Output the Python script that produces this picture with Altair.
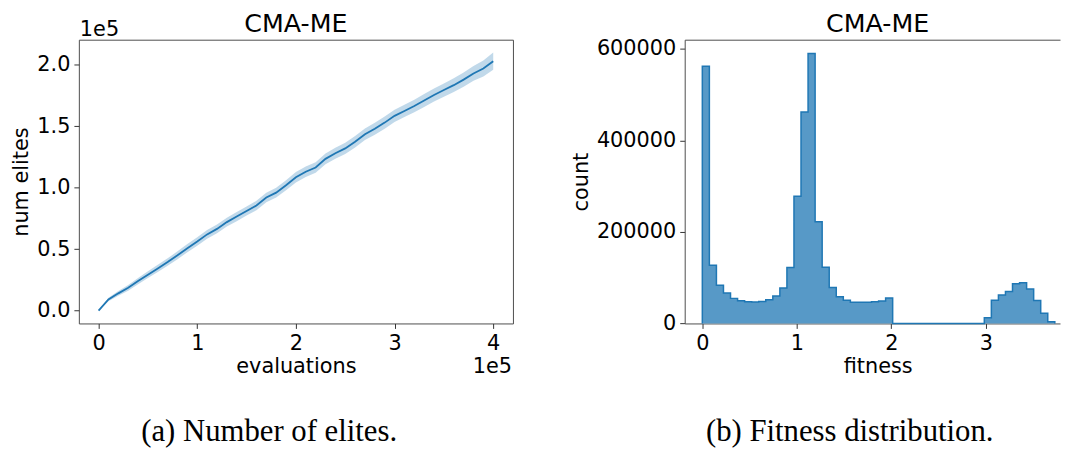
import altair as alt
import numpy as np
import pandas as pd

# ---------------- data: (a) number of elites ----------------
evaluations = [0, 10000, 20000, 30000, 40000, 50000, 60000, 70000, 80000, 90000,
               100000, 110000, 120000, 130000, 140000, 150000, 160000, 170000, 180000, 190000,
               200000, 210000, 220000, 230000, 240000, 250000, 260000, 270000, 280000, 290000,
               300000, 310000, 320000, 330000, 340000, 350000, 360000, 370000, 380000, 390000,
               400000]
num_elites = [0, 9000, 14000, 18500, 24000, 29200, 34300, 39500, 45000, 50800,
              56200, 62000, 66500, 72000, 76500, 81000, 85500, 92000, 96000, 102000,
              108500, 113000, 116500, 123500, 128000, 132000, 137500, 143500, 148000, 153000,
              158500, 162500, 166500, 171000, 175500, 179500, 183500, 188000, 193000, 197000,
              203000]
elites_spread = [0, 1500, 2000, 2300, 2600, 2800, 3000, 3000, 3200, 3300,
                 3400, 3500, 3500, 3600, 3700, 3700, 3800, 3900, 4000, 4100,
                 4200, 4200, 4300, 4400, 4500, 4600, 4700, 4700, 4800, 4900,
                 5000, 5000, 5100, 5200, 5300, 5400, 5600, 5800, 6000, 6500,
                 7000]

# ---------------- data: (b) fitness distribution ----------------
fitness_min = 0.0
fitness_max = 3.73
bin_counts = [562000, 127000, 83700, 66400, 54800, 49800, 47600, 46900, 48000, 52000,
              59900, 77200, 122000, 278000, 462000, 590000, 222000, 123000, 78600, 58400,
              50500, 46500, 46200, 46300, 47200, 49000, 55500, 0, 0, 0,
              0, 0, 0, 0, 0, 0, 0, 0, 0, 0,
              12300, 50500, 62000, 70000, 86500, 89000, 75500, 50300, 22500, 3800]

title_text = "CMA-ME"
caption_a = "(a) Number of elites."
caption_b = "(b) Fitness distribution."
offset_text = "1e5"

FONT = "DejaVu Sans"
SERIF = "Liberation Serif"
BLUE = "#1f77b4"
FILL = "#5799c7"
FRAME = "#4d4d4d"

W1, H = 438, 286.3
W2 = 378.7


def text_layer(txt, x, y, size, font=FONT, align="center", baseline="middle"):
    return alt.Chart(pd.DataFrame({"t": [txt]})).mark_text(
        font=font, fontSize=size, align=align, baseline=baseline, color="black"
    ).encode(x=alt.value(x), y=alt.value(y), text="t:N")


# ---------------- panel (a) ----------------
df_a = pd.DataFrame({"evaluations": evaluations, "num_elites": num_elites, "spread": elites_spread})
df_a["low"] = df_a["num_elites"] - df_a["spread"]
df_a["high"] = df_a["num_elites"] + df_a["spread"]

xa = alt.Scale(domain=[-20000, 420000], nice=False, zero=False)
ya = alt.Scale(domain=[-10500, 220500], nice=False, zero=False)

x_axis_a = alt.Axis(values=[0, 100000, 200000, 300000, 400000],
                    labelExpr="format(datum.value / 100000, 'd')",
                    title="evaluations", titleX=W1 / 2, titleY=43.7,
                    titleBaseline="middle", domain=False)
y_axis_a = alt.Axis(values=[0, 50000, 100000, 150000, 200000],
                    labelExpr="format(datum.value / 100000, '.1f')",
                    title="num elites", titleX=-58, titleY=H / 2,
                    titleBaseline="middle", domain=False)

band = alt.Chart(df_a).mark_area(color=BLUE, opacity=0.28).encode(
    x=alt.X("evaluations:Q", scale=xa, axis=x_axis_a),
    y=alt.Y("low:Q", scale=ya, axis=y_axis_a),
    y2="high:Q",
)
line = alt.Chart(df_a).mark_line(color=BLUE, strokeWidth=1.8).encode(
    x=alt.X("evaluations:Q", scale=xa, axis=x_axis_a),
    y=alt.Y("num_elites:Q", scale=ya, axis=y_axis_a),
)

title_a = text_layer(title_text, W1 / 2, -15.7, 25.5)
off_top = text_layer(offset_text, 1, -3.4, 21, align="left", baseline="alphabetic")
off_bot = text_layer(offset_text, 437, 336.3, 21, align="right", baseline="alphabetic")
cap_a = text_layer(caption_a, 192, 405, 31, font=SERIF, baseline="alphabetic")

panel_a = alt.layer(band, line, title_a, off_top, off_bot, cap_a).properties(width=W1, height=H)

# ---------------- panel (b) ----------------
edges = np.linspace(fitness_min, fitness_max, len(bin_counts) + 1)
df_area = pd.DataFrame({"fitness": edges, "count": bin_counts + [bin_counts[-1]]})
step_x = [edges[0]] + list(edges) + [edges[-1]]
step_y = [0] + bin_counts + [bin_counts[-1], 0]
df_step = pd.DataFrame({"fitness": step_x, "count": step_y, "order": list(range(len(step_x)))})

xb = alt.Scale(domain=[-0.1865, 3.785], nice=False, zero=False)
yb = alt.Scale(domain=[0, 620000], nice=False, zero=False)

x_axis_b = alt.Axis(values=[0, 1, 2, 3], format="d", title="fitness",
                    titleX=194.7, titleY=43.7, titleBaseline="middle",
                    domain=True, domainColor=FRAME)
y_axis_b = alt.Axis(values=[0, 200000, 400000, 600000], format="d", title="count",
                    titleX=-104.3, titleY=H / 2, titleBaseline="middle",
                    domain=True, domainColor=FRAME)
top_axis = alt.Axis(orient="top", labels=False, ticks=False, title=None,
                    domain=True, domainColor=FRAME)

area = alt.Chart(df_area).mark_area(interpolate="step-after", color=FILL).encode(
    x=alt.X("fitness:Q", scale=xb, axis=x_axis_b),
    y=alt.Y("count:Q", scale=yb, axis=y_axis_b),
)
step = alt.Chart(df_step).mark_line(interpolate="step-after", color=BLUE, strokeWidth=1.5).encode(
    x=alt.X("fitness:Q", scale=xb, axis=top_axis),
    y=alt.Y("count:Q", scale=yb, axis=y_axis_b),
    order="order:Q",
)
title_b = text_layer(title_text, 194.7, -15.7, 25.5)
cap_b = text_layer(caption_b, 166.5, 405, 31, font=SERIF, baseline="alphabetic")

panel_b = alt.layer(area, step, title_b, cap_b).resolve_axis(x="independent").properties(
    width=W2, height=H,
    view=alt.ViewBackground(stroke="transparent"),
)

chart = alt.hconcat(panel_a, panel_b, spacing=173.3, bounds="flush").properties(
    padding={"left": 1.5, "top": 1, "right": 0, "bottom": 0}
).configure_axis(
    labelFont=FONT, titleFont=FONT, labelFontSize=21, titleFontSize=21,
    labelColor="black", titleColor="black", titleFontWeight="normal",
    tickColor="#333333", tickSize=5, tickWidth=1, labelPadding=4, grid=False,
).configure_view(stroke=FRAME, strokeWidth=1)

chart.save("out.html", embed_options={"renderer": "svg", "actions": False})
